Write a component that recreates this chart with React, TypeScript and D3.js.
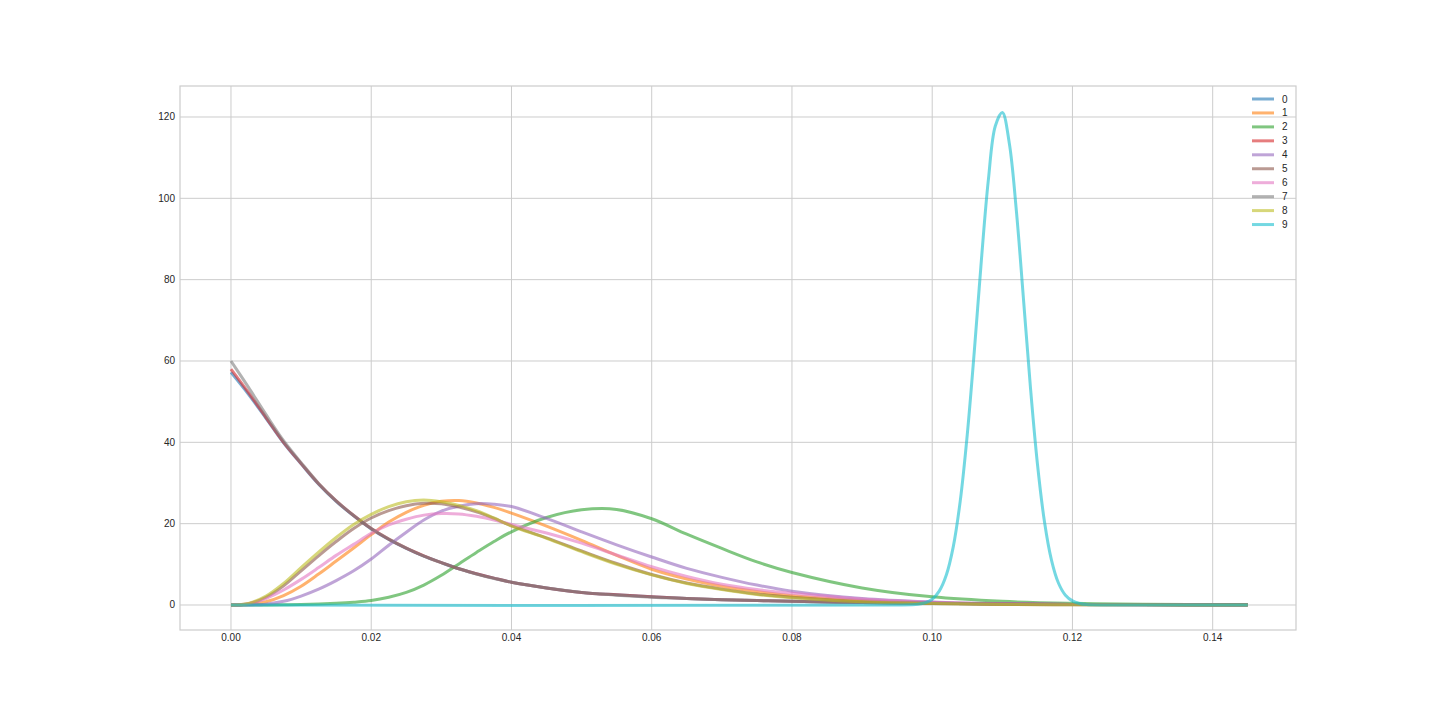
import React from 'react';
import * as d3 from 'd3';

// ---- data ----
const gridX = [0, 0.0025, 0.005, 0.0075, 0.01, 0.0125, 0.015, 0.0175, 0.02, 0.0225, 0.025, 0.0275, 0.03, 0.0325, 0.035, 0.0375, 0.04, 0.045, 0.05, 0.055, 0.06, 0.065, 0.07, 0.075, 0.08, 0.09, 0.10, 0.11, 0.12, 0.13, 0.145];

const series0 = [57.2, 51.8, 45.9, 39.9, 34.7, 29.7, 25.5, 21.9, 18.7, 16.1, 13.9, 12.0, 10.4, 8.9, 7.7, 6.6, 5.6, 4.2, 3.1, 2.5, 2.0, 1.6, 1.3, 1.1, 0.9, 0.6, 0.4, 0.25, 0.15, 0.1, 0.05];
const series1 = [0, 0.1, 0.8, 2.3, 4.6, 7.6, 10.8, 14.0, 17.3, 20.4, 22.8, 24.5, 25.5, 25.7, 25.1, 24.0, 22.6, 19.4, 15.9, 12.2, 8.8, 6.4, 4.6, 3.3, 2.3, 1.1, 0.5, 0.22, 0.1, 0.04, 0.01];
const series2 = [0, 0, 0.01, 0.03, 0.1, 0.22, 0.42, 0.7, 1.1, 1.9, 3.1, 4.9, 7.3, 10.1, 12.9, 15.6, 18.0, 21.5, 23.4, 23.5, 21.2, 17.4, 13.9, 10.6, 8.0, 4.2, 2.0, 0.9, 0.4, 0.17, 0.05];
const series3 = [58.0, 52.2, 46.1, 40.0, 34.8, 29.8, 25.6, 22.0, 18.8, 16.2, 14.0, 12.1, 10.4, 8.9, 7.7, 6.6, 5.6, 4.2, 3.1, 2.5, 2.0, 1.6, 1.3, 1.1, 0.9, 0.6, 0.4, 0.25, 0.15, 0.1, 0.05];
const series4 = [0, 0, 0.2, 0.9, 2.2, 3.9, 6.0, 8.4, 11.3, 14.7, 17.9, 20.9, 23.1, 24.3, 24.9, 24.8, 24.2, 21.3, 18.0, 14.8, 11.8, 9.0, 6.8, 4.9, 3.4, 1.6, 0.75, 0.33, 0.14, 0.06, 0.02];
const series5 = [0, 0.3, 1.9, 4.7, 8.4, 12.1, 15.6, 18.8, 21.4, 23.2, 24.4, 25.0, 24.9, 24.1, 22.9, 21.3, 19.5, 16.5, 13.3, 10.2, 7.5, 5.4, 3.9, 2.7, 1.9, 0.85, 0.38, 0.16, 0.07, 0.03, 0.01];
const series6 = [0, 0.3, 1.6, 3.7, 6.3, 9.2, 12.2, 14.9, 17.6, 19.7, 21.1, 22.1, 22.5, 22.4, 21.8, 20.9, 19.8, 17.7, 15.2, 12.3, 9.4, 7.0, 5.1, 3.8, 2.9, 1.5, 0.7, 0.32, 0.14, 0.06, 0.02];
const series7 = [60.0, 53.5, 46.8, 40.4, 35.0, 29.9, 25.6, 22.0, 18.8, 16.2, 14.0, 12.0, 10.4, 8.9, 7.6, 6.5, 5.6, 4.2, 3.1, 2.4, 1.9, 1.6, 1.3, 1.1, 0.9, 0.6, 0.4, 0.25, 0.15, 0.1, 0.05];
const series8 = [0, 0.4, 2.2, 5.3, 9.2, 13.0, 16.6, 19.8, 22.3, 24.2, 25.4, 25.8, 25.4, 24.5, 23.2, 21.4, 19.4, 16.4, 13.1, 10.0, 7.4, 5.3, 3.8, 2.6, 1.8, 0.8, 0.35, 0.15, 0.07, 0.03, 0.01];

const peakX = [0, 0.095, 0.098, 0.099, 0.100, 0.101, 0.102, 0.103, 0.104, 0.105, 0.106, 0.107, 0.108, 0.109, 0.110, 0.111, 0.112, 0.113, 0.114, 0.115, 0.116, 0.117, 0.118, 0.119, 0.120, 0.121, 0.122, 0.125, 0.145];
const series9 = [0, 0, 0.2, 0.55, 1.4, 3.4, 7.3, 14.3, 25.6, 41.9, 62.3, 84.5, 104.4, 117.8, 121.1, 113.5, 97.0, 75.6, 53.7, 34.8, 20.6, 11.1, 5.4, 2.4, 1.0, 0.37, 0.1, 0, 0];

const seriesNames = ['0', '1', '2', '3', '4', '5', '6', '7', '8', '9'];
const seriesColors = ['#1f77b4', '#ff7f0e', '#2ca02c', '#d62728', '#9467bd', '#8c564b', '#e377c2', '#7f7f7f', '#bcbd22', '#17becf'];

const xTicks = [0, 0.02, 0.04, 0.06, 0.08, 0.10, 0.12, 0.14];
const yTicks = [0, 20, 40, 60, 80, 100, 120];

export default function App() {
  const W = 1440, H = 720;
  const left = 180, right = 1296, top = 86, bottom = 630;
  const x = d3.scaleLinear().domain([-0.00727, 0.15188]).range([left, right]);
  const y = d3.scaleLinear().domain([-6.15, 127.62]).range([bottom, top]);

  const allSeries: { xs: number[]; ys: number[] }[] = [
    { xs: gridX, ys: series0 },
    { xs: gridX, ys: series1 },
    { xs: gridX, ys: series2 },
    { xs: gridX, ys: series3 },
    { xs: gridX, ys: series4 },
    { xs: gridX, ys: series5 },
    { xs: gridX, ys: series6 },
    { xs: gridX, ys: series7 },
    { xs: gridX, ys: series8 },
    { xs: peakX, ys: series9 },
  ];

  const line = d3
    .line<[number, number]>()
    .x((d) => x(d[0]))
    .y((d) => y(d[1]))
    .curve(d3.curveCatmullRom.alpha(0.5));

  const font = '"Liberation Sans", Arial, sans-serif';
  const textColor = '#262626';

  return (
    <svg
      width={W}
      height={H}
      style={{ position: 'absolute', left: 0, top: 0, background: '#fff' }}
      fontFamily={font}
    >
      <rect x={0} y={0} width={W} height={H} fill="#fff" />
      {/* grid */}
      {xTicks.map((t) => (
        <line key={'gx' + t} x1={x(t)} x2={x(t)} y1={top} y2={bottom} stroke="#cccccc" strokeWidth={1} />
      ))}
      {yTicks.map((t) => (
        <line key={'gy' + t} x1={left} x2={right} y1={y(t)} y2={y(t)} stroke="#cccccc" strokeWidth={1} />
      ))}
      {/* frame */}
      <rect x={left} y={top} width={right - left} height={bottom - top} fill="none" stroke="#cccccc" strokeWidth={1.2} />
      {/* tick labels */}
      {xTicks.map((t) => (
        <text key={'tx' + t} x={x(t)} y={bottom + 10.5} textAnchor="middle" fontSize={10} fill={textColor}>
          {d3.format('.2f')(t)}
        </text>
      ))}
      {yTicks.map((t) => (
        <text key={'ty' + t} x={left - 5} y={y(t) + 3.5} textAnchor="end" fontSize={10} fill={textColor}>
          {String(t)}
        </text>
      ))}
      {/* lines */}
      {allSeries.map((s, i) => {
        const pts: [number, number][] = s.xs.map((xv, j) => [xv, s.ys[j]]);
        return (
          <path
            key={'s' + i}
            d={line(pts) || ''}
            fill="none"
            stroke={seriesColors[i]}
            strokeOpacity={0.6}
            strokeWidth={3}
            strokeLinejoin="round"
            strokeLinecap="butt"
          />
        );
      })}
      {/* legend */}
      {seriesNames.map((name, i) => {
        const cy = 99 + i * 13.95;
        return (
          <g key={'lg' + i}>
            <line x1={1252} x2={1274} y1={cy} y2={cy} stroke={seriesColors[i]} strokeOpacity={0.6} strokeWidth={3} />
            <text x={1282} y={cy + 3.5} fontSize={10} fill={textColor}>
              {name}
            </text>
          </g>
        );
      })}
    </svg>
  );
}
